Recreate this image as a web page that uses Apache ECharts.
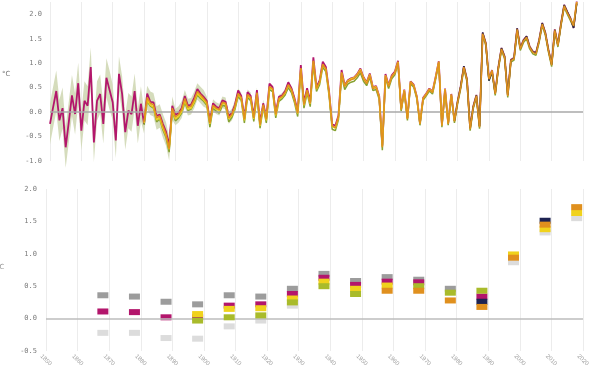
<!DOCTYPE html>
<html><head><meta charset="utf-8">
<script src="https://cdn.jsdelivr.net/npm/echarts@6/dist/echarts.min.js"></script>
<style>html,body{margin:0;padding:0;background:#fff}#c{width:600px;height:380px}</style>
</head><body><div id="c"></div>
<script>
// ---------- top panel: annual anomalies ----------
const magentaStart = 1850;
const magenta = [
-0.24,0.10,0.43,-0.17,0.08,-0.72,-0.20,0.34,-0.04,0.59,
-0.38,0.23,0.13,0.92,-0.62,0.23,0.37,-0.24,0.70,0.45,
0.20,-0.58,0.78,0.37,-0.41,0.03,-0.04,0.43,-0.28,0.17,
-0.24,0.38,0.21,0.20,-0.08,-0.05,-0.24,-0.40,-0.68,0.13,
-0.06,-0.02,0.08,0.33,0.13,0.15,0.29,0.47,0.38,0.31,
0.23,-0.17,0.18,0.11,0.08,0.24,0.21,-0.08,-0.02,0.15,
0.44,0.33,-0.11,0.41,0.33,-0.08,0.45,-0.22,0.18,-0.11,
0.58,0.51,-0.01,0.31,0.34,0.43,0.61,0.49,0.28,0.02,
0.96,0.19,0.49,0.21,1.12,0.51,0.65,1.03,0.92,0.43,
-0.25,-0.28,-0.07,0.86,0.55,0.65,0.69,0.71,0.78,0.89,
0.71,0.61,0.79,0.51,0.53,0.33,-0.68,0.78,0.55,0.75,
0.83,1.05,0.07,0.46,-0.12,0.63,0.56,0.32,-0.22,0.29,
0.38,0.48,0.42,0.72,1.04,-0.26,0.48,-0.22,0.37,-0.17,
0.22,0.53,0.94,0.67,-0.33,0.12,0.35,-0.29,1.62,1.41,
0.69,0.86,0.39,0.92,1.31,1.14,0.35,1.07,1.11,1.71,
1.31,1.47,1.55,1.34,1.24,1.21,1.47,1.82,1.62,1.27,
0.98,1.69,1.38,1.82,2.19,2.05,1.92,1.72,2.26];

const otherStart = 1880;
const orange = [
-0.20,0.30,0.18,0.15,-0.12,-0.08,-0.28,-0.45,-0.75,0.08,
-0.10,-0.05,0.05,0.28,0.10,0.12,0.25,0.42,0.35,0.28,
0.20,-0.22,0.14,0.08,0.05,0.20,0.18,-0.12,-0.05,0.12,
0.38,0.30,-0.15,0.36,0.30,-0.12,0.40,-0.26,0.15,-0.15,
0.52,0.48,-0.05,0.28,0.32,0.40,0.56,0.46,0.25,-0.02,
0.90,0.15,0.45,0.18,1.05,0.48,0.62,0.98,0.88,0.40,
-0.28,-0.32,-0.10,0.80,0.52,0.62,0.66,0.68,0.75,0.85,
0.68,0.58,0.75,0.48,0.50,0.30,-0.72,0.74,0.52,0.72,
0.80,1.02,0.05,0.44,-0.14,0.61,0.54,0.30,-0.24,0.27,
0.36,0.46,0.40,0.70,1.02,-0.28,0.46,-0.24,0.35,-0.19,
0.20,0.51,0.92,0.65,-0.35,0.10,0.33,-0.31,1.60,1.39,
0.67,0.84,0.37,0.90,1.29,1.12,0.33,1.05,1.09,1.69,
1.29,1.45,1.53,1.32,1.22,1.19,1.45,1.80,1.60,1.25,
0.96,1.67,1.36,1.80,2.17,2.03,1.90,1.76,2.24];
const green = [
-0.26,0.22,0.12,0.08,-0.20,-0.14,-0.36,-0.52,-0.82,0.02,
-0.18,-0.12,-0.02,0.20,0.03,0.06,0.18,0.35,0.28,0.22,
0.14,-0.31,0.08,0.02,-0.02,0.14,0.12,-0.20,-0.11,0.06,
0.32,0.24,-0.22,0.30,0.24,-0.19,0.33,-0.33,0.09,-0.22,
0.46,0.42,-0.12,0.22,0.27,0.35,0.50,0.40,0.19,-0.09,
0.84,0.08,0.39,0.11,0.98,0.42,0.56,0.92,0.82,0.34,
-0.35,-0.38,-0.16,0.74,0.46,0.57,0.61,0.63,0.70,0.80,
0.63,0.54,0.71,0.44,0.46,0.26,-0.78,0.70,0.48,0.68,
0.76,0.99,0.02,0.41,-0.17,0.58,0.51,0.27,-0.27,0.24,
0.33,0.43,0.37,0.67,0.99,-0.31,0.43,-0.27,0.32,-0.22,
0.17,0.48,0.89,0.62,-0.38,0.07,0.30,-0.34,1.57,1.36,
0.64,0.81,0.34,0.87,1.26,1.09,0.30,1.02,1.06,1.66,
1.26,1.42,1.50,1.29,1.19,1.16,1.42,1.77,1.57,1.22,
0.93,1.64,1.33,1.77,2.14,2.00,1.87,1.73,2.21];
const yellow = [
-0.22,0.25,0.14,0.10,-0.16,-0.12,-0.33,-0.48,-0.76,0.04,
-0.14,-0.09,0.01,0.24,0.06,0.08,0.21,0.38,0.31,0.25,
0.17,-0.24,0.12,0.06,0.03,0.18,0.16,-0.14,-0.07,0.10,
0.36,0.28,-0.17,0.34,0.28,-0.14,0.38,-0.28,0.13,-0.17,
0.50,0.46,-0.07,0.26,0.31,0.39,0.55,0.45,0.24,-0.03,
0.89,0.14,0.44,0.17,1.04,0.47,0.61,0.97,0.87,0.39,
-0.29,-0.33,-0.11,0.81,0.53,0.64,0.68,0.70,0.77,0.87,
0.70,0.60,0.77,0.50,0.52,0.32,-0.70,0.75,0.54,0.73,
0.81,1.03,0.06,0.45,-0.13,0.62,0.55,0.31,-0.23,0.28,
0.37,0.47,0.41,0.71,1.03,-0.27,0.47,-0.23,0.36,-0.18,
0.21,0.52,0.93,0.66,-0.34,0.11,0.34,-0.30,1.61,1.40,
0.68,0.85,0.38,0.91,1.30,1.13,0.34,1.06,1.10,1.70,
1.30,1.46,1.54,1.33,1.23,1.20,1.46,1.81,1.61,1.26,
0.97,1.68,1.37,1.81,2.18,2.04,1.91,1.77,2.25];
const navyStart = 1979;
const navy = [
-0.18,0.21,0.53,0.94,0.66,-0.33,0.11,0.34,-0.29,1.63,
1.40,0.64,0.82,0.38,0.91,1.31,1.13,0.35,1.06,1.10,
1.71,1.30,1.46,1.55,1.33,1.23,1.21,1.46,1.82,1.61,
1.26,0.97,1.68,1.37,1.81,2.19,2.05,1.91,1.72,2.22];
// uncertainty half-width per decade, from 1850s to 1930s
const bandDecadeStart = 1850;
const bandHalfWidth = [0.42,0.40,0.36,0.24,0.17,0.12,0.10,0.07,0.05];

// ---------- bottom panel: period means ----------
const periodYears = [1868,1878,1888,1898,1908,1918,1928,1938,1948,1958,1968,1978,1988,1998,2008,2018];
const grayBox   = [0.36,0.34,0.26,0.22,0.36,0.34,0.46,0.69,0.58,0.64,0.60,0.46,null,null,null,null];
const lightBox  = [-0.22,-0.22,-0.30,-0.31,-0.12,-0.03,0.20,null,null,null,null,null,null,0.87,1.33,1.55];
const magentaBox= [0.11,0.10,0.02,0.02,0.20,0.22,0.38,0.63,0.52,0.57,0.56,null,0.34,null,null,null];
const navyBox   = [null,null,null,null,null,null,null,null,null,null,null,null,0.26,null,1.51,null];
const yellowBox = [null,null,null,0.07,0.15,0.16,0.31,0.57,0.46,0.51,null,null,null,0.99,1.38,1.63];
const greenBox  = [null,null,null,-0.03,0.02,0.05,0.25,0.50,0.38,null,0.50,0.40,0.43,null,null,null];
const orangeBox = [null,null,null,null,null,null,null,null,null,0.43,0.43,0.28,0.18,0.94,1.45,1.72];

const xTickLabels = ['1850','1860','1870','1880','1890','1900','1910','1920','1930','1940','1950','1960','1970','1980','1990','2000','2010','2020'];

// ---------- build ----------
const C = {magenta:'#b3166c', orange:'#e0901e', yellow:'#f0d21c', green:'#86a232', navy:'#1d2352',
           gray:'#9c9c9c', light:'#dcdcdc', band:'#d3dab8'};
function pairs(start, arr){ return arr.map((v,i)=>[start+i, v]); }
function centerAt(yr){ return yr < otherStart ? magenta[yr-magentaStart] : orange[yr-otherStart]; }
const bandLow=[], bandHigh=[];
for (let d=0; d<bandHalfWidth.length; d++){
  for (let k=0;k<10;k++){
    const yr = bandDecadeStart + d*10 + k;
    const u = bandHalfWidth[d];
    bandLow.push([yr, centerAt(yr)-u]);
    bandHigh.push([yr, centerAt(yr)+u]);
  }
}
function boxes(arr){ return periodYears.map((y,i)=>[y, arr[i]]).filter(p=>p[1]!==null); }
const fmt = v => (Math.abs(v*2 - Math.round(v*2)) < 1e-6) ? v.toFixed(1) : '';
const yLabel = {fontSize:7, color:'#7a7a7a', fontFamily:'DejaVu Sans Mono', formatter: fmt};

function lineS(name, data, color, width, z){
  return {name, type:'line', xAxisIndex:0, yAxisIndex:0, data, symbol:'none', z,
          lineStyle:{color, width}, itemStyle:{color}};
}
function boxS(name, arr, color, z){
  return {name, type:'scatter', xAxisIndex:1, yAxisIndex:1, data: boxes(arr), symbol:'rect',
          symbolSize:[11,6], z, itemStyle:{color, opacity:1}};
}

const chart = echarts.init(document.getElementById('c'), null, {renderer:'canvas'});
chart.setOption({
  animation:false,
  backgroundColor:'#fff',
  grid:[{left:50,right:17,top:2,height:159},{left:46,right:17,top:189,height:162}],
  xAxis:[
    {type:'value', gridIndex:0, min:1850, max:2020, interval:10,
     axisLine:{show:false}, axisTick:{show:false}, axisLabel:{show:false},
     splitLine:{show:true, lineStyle:{color:'#ececec', width:1}}},
    {type:'value', gridIndex:1, min:1850, max:2020, interval:10,
     axisLine:{show:false}, axisTick:{show:false},
     axisLabel:{show:true, rotate:-45, fontSize:6, color:'#a0a0a0', align:'center', verticalAlign:'middle', margin:9,
       formatter: v => xTickLabels[Math.round((v-1850)/10)] || ''},
     splitLine:{show:true, lineStyle:{color:'#ececec', width:1}}}
  ],
  yAxis:[
    {type:'value', gridIndex:0, min:-1, max:2.25, interval:0.5,
     axisLine:{show:false}, axisTick:{show:false}, splitLine:{show:false},
     axisLabel:Object.assign({margin:8}, yLabel)},
    {type:'value', gridIndex:1, min:-0.5, max:2.0, interval:0.5,
     axisLine:{show:false}, axisTick:{show:false}, splitLine:{show:false},
     axisLabel:Object.assign({margin:9}, yLabel)}
  ],
  graphic:[
    {type:'text', left:2, top:71, style:{text:'°C', fontSize:7, fill:'#777', fontFamily:'DejaVu Sans'}},
    {type:'text', left:-4, top:264, style:{text:'°C', fontSize:7, fill:'#999', fontFamily:'DejaVu Sans'}}
  ],
  series:[
    {name:'band', type:'custom', coordinateSystem:'cartesian2d', xAxisIndex:0, yAxisIndex:0, z:1, silent:true,
     data:[[bandLow[0][0], bandLow[0][1]]],
     renderItem:function(params, api){
       const pts = bandHigh.map(p=>api.coord(p)).concat(bandLow.slice().reverse().map(p=>api.coord(p)));
       return {type:'polygon', shape:{points:pts}, style:{fill:C.band, opacity:0.95}};
     },
     markLine:{silent:true, symbol:'none', label:{show:false}, lineStyle:{color:'#a9a9a9', width:1.5, type:'solid'},
       data:[{yAxis:0}]}},
    lineS('magenta', pairs(magentaStart, magenta), C.magenta, 1.8, 3),
    lineS('green', pairs(otherStart, green), C.green, 1.5, 4),
    lineS('yellow', pairs(otherStart, yellow), C.yellow, 1.5, 5),
    lineS('navy', pairs(navyStart, navy), C.navy, 1.4, 6),
    lineS('orange', pairs(otherStart, orange), C.orange, 1.5, 7),
    Object.assign(boxS('light', lightBox, C.light, 2), {
      markLine:{silent:true, symbol:'none', label:{show:false}, lineStyle:{color:'#bdbdbd', width:1.5, type:'solid'},
        data:[{yAxis:0}]}}),
    boxS('gray', grayBox, C.gray, 3),
    boxS('magentaB', magentaBox, C.magenta, 4),
    boxS('navyB', navyBox, C.navy, 5),
    boxS('yellowB', yellowBox, C.yellow, 6),
    boxS('greenB', greenBox, '#a9bb2b', 7),
    boxS('orangeB', orangeBox, C.orange, 8)
  ]
});
</script></body></html>
